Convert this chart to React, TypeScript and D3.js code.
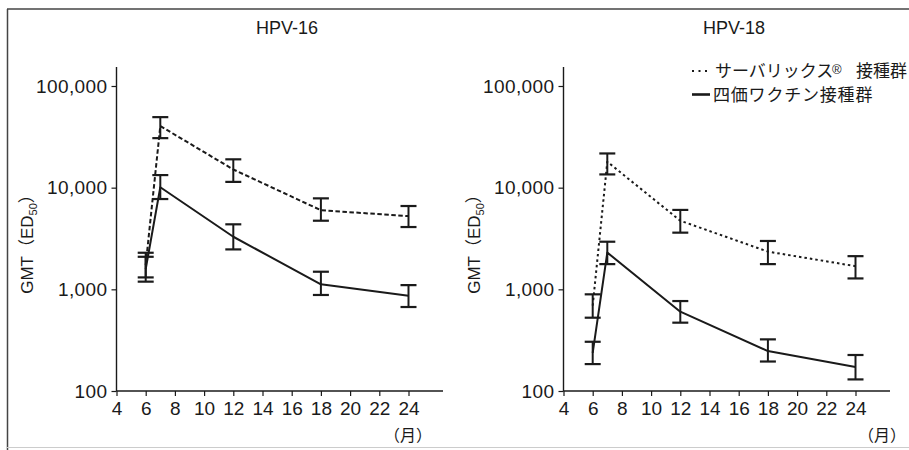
import React, { useEffect, useRef } from "react";
import * as d3 from "d3";

// data
const months = [6, 7, 12, 18, 24];
const xTicks = [4, 6, 8, 10, 12, 14, 16, 18, 20, 22, 24];
const yTicks = [100, 1000, 10000, 100000];
const panelTitles = ["HPV-16", "HPV-18"];

// HPV-16
const hpv16Cervarix = [1730, 40400, 15100, 6000, 5250];
const hpv16CervarixLow = [1310, 30700, 11400, 4730, 4100];
const hpv16CervarixHigh = [2290, 49400, 19000, 7850, 6600];
const hpv16Quad = [1580, 10100, 3290, 1120, 865];
const hpv16QuadLow = [1190, 7730, 2470, 880, 670];
const hpv16QuadHigh = [2090, 13300, 4360, 1490, 1100];

// HPV-18
const hpv18Cervarix = [690, 18000, 4730, 2350, 1690];
const hpv18CervarixLow = [526, 13500, 3610, 1770, 1280];
const hpv18CervarixHigh = [893, 21700, 6040, 2990, 2120];
const hpv18Quad = [237, 2300, 603, 247, 172];
const hpv18QuadLow = [184, 1770, 470, 195, 130];
const hpv18QuadHigh = [305, 2940, 767, 322, 226];

const INK = "#1a1a1a";
const LATIN = "'Liberation Sans', Arial, sans-serif";
const CJK = "'Noto Sans CJK JP', 'Liberation Sans', sans-serif";

const App = () => {
  const svgRef = useRef<SVGSVGElement | null>(null);

  useEffect(() => {
    const width = 909;
    const height = 450;

    const svg = d3
      .select(svgRef.current)
      .attr("width", width)
      .attr("height", height)
      .attr("viewBox", [0, 0, width, height].join(" "));

    svg.selectAll("*").remove();

    svg.append("rect").attr("width", width).attr("height", height).attr("fill", "#fff");

    // frame of the scanned page
    svg.append("line").attr("x1", 7).attr("x2", width).attr("y1", 9).attr("y2", 9)
      .attr("stroke", "#444").attr("stroke-width", 1.5);
    svg.append("line").attr("x1", 7.5).attr("x2", 7.5).attr("y1", 9).attr("y2", height)
      .attr("stroke", "#444").attr("stroke-width", 1.5);
    svg.append("line").attr("x1", 7).attr("x2", width).attr("y1", 447.5).attr("y2", 447.5)
      .attr("stroke", "#ccc").attr("stroke-width", 1);

    const panels = [
      {
        title: panelTitles[0],
        offset: 0,
        unitX: 408,
        dash: "4.5,2.5",
        series: [
          { v: hpv16Cervarix, lo: hpv16CervarixLow, hi: hpv16CervarixHigh, dashed: true },
          { v: hpv16Quad, lo: hpv16QuadLow, hi: hpv16QuadHigh, dashed: false },
        ],
      },
      {
        title: panelTitles[1],
        offset: 447,
        unitX: 882,
        dash: "2.5,3",
        series: [
          { v: hpv18Cervarix, lo: hpv18CervarixLow, hi: hpv18CervarixHigh, dashed: true },
          { v: hpv18Quad, lo: hpv18QuadLow, hi: hpv18QuadHigh, dashed: false },
        ],
      },
    ];

    const y = d3.scaleLog().domain([100, 100000]).range([391, 86]);

    panels.forEach((p) => {
      const x = d3
        .scaleLinear()
        .domain([4, 24])
        .range([116.5 + p.offset, 408.5 + p.offset]);

      const g = svg.append("g");

      // title
      g.append("text")
        .attr("x", 287 + p.offset)
        .attr("y", 33.5)
        .attr("text-anchor", "middle")
        .attr("font-family", LATIN)
        .attr("font-size", 18)
        .attr("fill", INK)
        .text(p.title);

      // y axis
      g.append("g")
        .attr("transform", `translate(${x(4)},0)`)
        .call(
          d3.axisLeft(y).tickValues(yTicks).tickFormat(d3.format(",") as any)
            .tickSize(5).tickPadding(4)
        )
        .call((a) => a.select(".domain").remove())
        .call((a) => a.selectAll("line").attr("stroke", INK).attr("stroke-width", 1.2))
        .call((a) =>
          a.selectAll("text").attr("font-family", LATIN).attr("font-size", 19)
            .attr("letter-spacing", 0.4).attr("fill", INK)
        );
      g.append("line")
        .attr("x1", x(4)).attr("x2", x(4)).attr("y1", 67).attr("y2", y(100))
        .attr("stroke", INK).attr("stroke-width", 1.4);

      // x axis
      g.append("g")
        .attr("transform", `translate(0,${y(100)})`)
        .call(d3.axisBottom(x).tickValues(xTicks).tickSize(5).tickPadding(6))
        .call((a) => a.select(".domain").remove())
        .call((a) => a.selectAll("line").attr("stroke", INK).attr("stroke-width", 1.2))
        .call((a) =>
          a.selectAll("text").attr("font-family", LATIN).attr("font-size", 19)
            .attr("fill", INK)
        );
      g.append("line")
        .attr("x1", x(4)).attr("x2", x(4) + 326.5).attr("y1", y(100)).attr("y2", y(100))
        .attr("stroke", INK).attr("stroke-width", 1.4);

      // unit (月)
      g.append("text")
        .attr("x", p.unitX)
        .attr("y", 441)
        .attr("text-anchor", "middle")
        .attr("font-family", CJK)
        .attr("font-size", 16)
        .attr("fill", INK)
        .text("（月）");

      // y label
      const yl = g.append("text")
        .attr("transform", `translate(${33 + p.offset},240) rotate(-90)`)
        .attr("text-anchor", "middle")
        .attr("font-family", LATIN)
        .attr("font-size", 17)
        .attr("fill", INK);
      yl.append("tspan").text("GMT");
      yl.append("tspan").attr("font-family", CJK).text("（");
      yl.append("tspan").text("ED");
      yl.append("tspan").attr("font-size", 11).attr("dy", 4).text("50");
      yl.append("tspan").attr("font-family", CJK).attr("dy", -4).text("）");

      // lines
      const line = d3
        .line<number>()
        .x((_, i) => x(months[i]))
        .y((d) => y(d));

      p.series.forEach((s) => {
        g.append("path")
          .attr("d", line(s.v))
          .attr("fill", "none")
          .attr("stroke", INK)
          .attr("stroke-width", 2)
          .attr("stroke-linejoin", "round")
          .attr("stroke-dasharray", s.dashed ? p.dash : null);

        // error bars
        months.forEach((m, i) => {
          const cx = x(m);
          g.append("line")
            .attr("x1", cx).attr("x2", cx)
            .attr("y1", y(s.lo[i])).attr("y2", y(s.hi[i]))
            .attr("stroke", INK).attr("stroke-width", 2);
          [s.lo[i], s.hi[i]].forEach((val) => {
            g.append("line")
              .attr("x1", cx - 8).attr("x2", cx + 8)
              .attr("y1", y(val)).attr("y2", y(val))
              .attr("stroke", INK).attr("stroke-width", 2.2);
          });
        });
      });
    });

    // legend
    const lg = svg.append("g").attr("fill", INK);
    lg.append("line").attr("x1", 692).attr("x2", 711).attr("y1", 71).attr("y2", 71)
      .attr("stroke", INK).attr("stroke-width", 2).attr("stroke-dasharray", "2,4.5");
    lg.append("text").attr("x", 715).attr("y", 77).attr("font-family", CJK)
      .attr("font-size", 17).text("サーバリックス");
    lg.append("text").attr("x", 832).attr("y", 74).attr("font-family", LATIN)
      .attr("font-size", 13).text("®");
    lg.append("text").attr("x", 856).attr("y", 77).attr("font-family", CJK)
      .attr("font-size", 17).text("接種群");
    lg.append("line").attr("x1", 692).attr("x2", 710).attr("y1", 94.5).attr("y2", 94.5)
      .attr("stroke", INK).attr("stroke-width", 2.6);
    lg.append("text").attr("x", 713).attr("y", 101).attr("font-family", CJK)
      .attr("font-size", 17).attr("letter-spacing", 0.8).text("四価ワクチン接種群");
  }, []);

  return (
    <svg
      ref={svgRef}
      style={{ position: "absolute", left: 0, top: 0, display: "block" }}
    />
  );
};

export default App;
